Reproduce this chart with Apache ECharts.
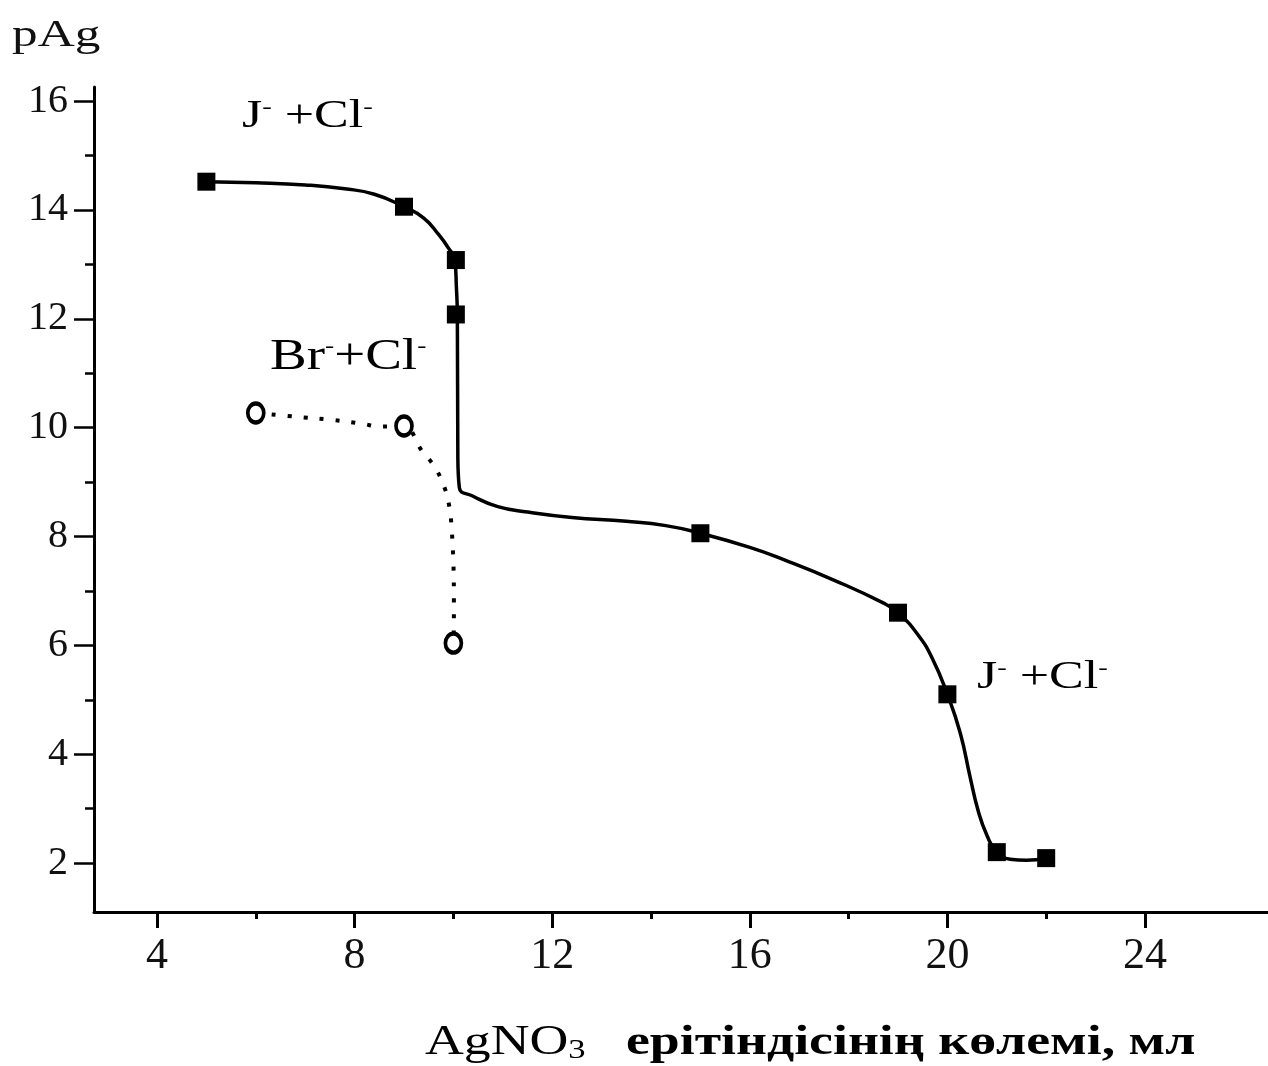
<!DOCTYPE html>
<html>
<head>
<meta charset="utf-8">
<style>
html,body{margin:0;padding:0;background:#fff;}
#chart{width:1268px;height:1066px;}
</style>
<script src="https://cdn.jsdelivr.net/npm/echarts@6/dist/echarts.min.js"></script>
</head>
<body>
<div id="chart"></div>
<script>
// ---- data ----
const xMajorTicks = [4, 8, 12, 16, 20, 24];
const xMinorTicks = [6, 10, 14, 18, 22];
const yMajorTicks = [2, 4, 6, 8, 10, 12, 14, 16];
const yMinorTicks = [3, 5, 7, 9, 11, 13, 15];

// J- + Cl- measured points (filled squares)
const squareX = [5, 9, 10.05, 10.05, 15, 19, 20, 21, 22];
const squareY = [14.52, 14.06, 13.08, 12.08, 8.06, 6.6, 5.1, 2.2, 2.09];

// Br- + Cl- measured points (open circles)
const circleX = [6, 9, 10];
const circleY = [10.27, 10.03, 6.04];

// solid fitted curve
const curveX = [5, 6, 7, 7.8, 8.4, 9, 9.4, 9.7, 9.9, 10.03, 10.06, 10.08, 10.09, 10.12, 10.4, 10.9, 11.5, 12.4, 13.5, 14.3, 15.0, 16.0, 16.7, 17.7, 18.7, 19.0, 19.4, 19.7, 20.0, 20.26, 20.46, 20.62, 20.8, 21.0, 21.27, 21.6, 22.0];
const curveY = [14.52, 14.5, 14.46, 14.39, 14.29, 14.06, 13.85, 13.55, 13.3, 13.08, 12.6, 12.08, 9.5, 8.9, 8.74, 8.55, 8.45, 8.35, 8.28, 8.2, 8.06, 7.8, 7.57, 7.2, 6.78, 6.6, 6.2, 5.75, 5.1, 4.39, 3.58, 2.97, 2.51, 2.2, 2.07, 2.05, 2.09];

// dotted fitted curve
const dotX = [6, 6.95, 7.56, 8.17, 8.5, 9.0, 9.35, 9.62, 9.82, 9.92, 9.96, 10.0, 10.01, 10.01, 10.0];
const dotY = [10.27, 10.19, 10.14, 10.07, 10.02, 10.03, 9.59, 9.28, 8.9, 8.54, 8.21, 7.51, 6.8, 6.43, 6.04];

const labelJ = 'J';
const labelBr = 'Br';
const labelCl = 'Cl';
const yTitle = 'pAg';
const xTitleA = 'AgNO';
const xTitleSub = '3';
const xTitleB = '   ерітіндісінің көлемі, мл';

// ---- chart ----
const FONT = '"Liberation Serif", "Times New Roman", serif';
const pairs = (xs, ys) => xs.map((x, i) => [x, ys[i]]);

const chart = echarts.init(document.getElementById('chart'), null, {renderer: 'canvas'});

// labelled axis (line + labels), plus tick-only axes sharing the same scale
const axisX = (ticks, len, showLine, showLabel) => ({
  type: 'value', min: 2.725, max: 26.49, position: 'bottom',
  axisLine: {show: showLine, onZero: false, lineStyle: {color: '#000', width: 3}},
  axisTick: {show: len > 0, customValues: ticks, length: len, lineStyle: {color: '#000', width: 3}},
  axisLabel: {show: showLabel, customValues: ticks, fontFamily: FONT, fontSize: 44, color: '#111', margin: 22},
  splitLine: {show: false}
});
const axisY = (ticks, len, showLine, showLabel) => ({
  type: 'value', min: 1.1, max: 16.26, position: 'left',
  axisLine: {show: showLine, onZero: false, lineStyle: {color: '#000', width: 3}},
  axisTick: {show: len > 0, customValues: ticks, length: len, lineStyle: {color: '#000', width: 2.5}},
  axisLabel: {show: showLabel, customValues: ticks, fontFamily: FONT, fontSize: 40, color: '#111', margin: 26},
  splitLine: {show: false}
});

const supStyle = {fontFamily: FONT, fontSize: 22, verticalAlign: 'top', color: '#111'};

chart.setOption({
  animation: false,
  backgroundColor: '#fff',
  grid: {left: 94, right: 0, top: 87, bottom: 154, containLabel: false},
  xAxis: [
    axisX(xMajorTicks, 0, true, true),
    axisX(xMinorTicks, 7, false, false),
    axisX(xMajorTicks, 16, false, false)
  ],
  yAxis: [
    axisY(yMajorTicks, 0, true, true),
    axisY(yMinorTicks, 9, false, false),
    axisY(yMajorTicks, 20, false, false)
  ],
  series: [
    {
      type: 'line', xAxisIndex: 0, yAxisIndex: 0, data: pairs(curveX, curveY),
      showSymbol: false, smooth: 0.5, lineStyle: {color: '#000', width: 3.5}, silent: true, z: 2
    },
    {
      type: 'line', xAxisIndex: 0, yAxisIndex: 0, data: pairs(dotX, dotY),
      showSymbol: false, smooth: 0.4, lineStyle: {color: '#000', width: 4, type: [4, 12], cap: 'butt'}, silent: true, z: 2
    },
    {
      type: 'scatter', xAxisIndex: 0, yAxisIndex: 0, data: pairs(squareX, squareY),
      symbol: 'rect', symbolSize: 18, itemStyle: {color: '#000', opacity: 1}, silent: true, z: 3
    },
    {
      type: 'scatter', xAxisIndex: 0, yAxisIndex: 0, data: pairs(circleX, circleY),
      symbol: 'circle', symbolSize: [16, 19], itemStyle: {color: '#fff', borderColor: '#000', borderWidth: 4, opacity: 1}, silent: true, z: 3
    }
  ],
  graphic: [
    {
      type: 'text', x: 12, y: 17, scaleX: 1.35, silent: true,
      style: {text: yTitle, fontFamily: FONT, fontSize: 38, fill: '#111', align: 'left', verticalAlign: 'top'}
    },
    {
      type: 'text', x: 242, y: 96, scaleX: 1.3, silent: true,
      style: {
        text: '{m|' + labelJ + '}{s|-}{m| +' + labelCl + '}{s|-}', align: 'left', verticalAlign: 'top',
        rich: {m: {fontFamily: FONT, fontSize: 40, color: '#111'}, s: supStyle}
      }
    },
    {
      type: 'text', x: 270, y: 335, scaleX: 1.25, silent: true,
      style: {
        text: '{m|' + labelBr + '}{s|-}{m|+' + labelCl + '}{s|-}', align: 'left', verticalAlign: 'top',
        rich: {m: {fontFamily: FONT, fontSize: 44, color: '#111'}, s: supStyle}
      }
    },
    {
      type: 'text', x: 977, y: 657, scaleX: 1.3, silent: true,
      style: {
        text: '{m|' + labelJ + '}{s|-}{m| +' + labelCl + '}{s|-}', align: 'left', verticalAlign: 'top',
        rich: {m: {fontFamily: FONT, fontSize: 40, color: '#111'}, s: supStyle}
      }
    },
    {
      type: 'text', x: 425, y: 1022, scaleX: 1.28, silent: true,
      style: {
        text: '{a|' + xTitleA + '}{s|' + xTitleSub + '}{b|' + xTitleB + '}', align: 'left', verticalAlign: 'top',
        rich: {
          a: {fontFamily: FONT, fontSize: 42, color: '#111'},
          s: {fontFamily: FONT, fontSize: 27, color: '#111', verticalAlign: 'bottom'},
          b: {fontFamily: FONT, fontSize: 42, fontWeight: 'bold', color: '#111'}
        }
      }
    }
  ]
});
</script>
</body>
</html>
